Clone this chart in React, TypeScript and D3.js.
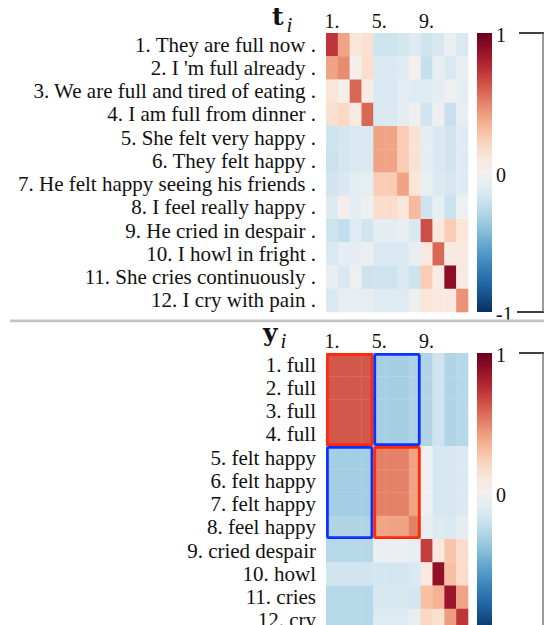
import React from 'react';
import * as d3 from 'd3';

// sentence labels (top) and phrase labels (bottom)
const sentenceLabels = [
    '1. They are full now .',
    "2. I 'm full already .",
    '3. We are full and tired of eating .',
    '4. I am full from dinner .',
    '5. She felt very happy .',
    '6. They felt happy .',
    '7. He felt happy seeing his friends .',
    '8. I feel really happy .',
    '9. He cried in despair .',
    '10. I howl in fright .',
    '11. She cries continuously .',
    '12. I cry with pain .'
];

const phraseLabels = [
    '1. full',
    '2. full',
    '3. full',
    '4. full',
    '5. felt happy',
    '6. felt happy',
    '7. felt happy',
    '8. feel happy',
    '9. cried despair',
    '10. howl',
    '11. cries',
    '12. cry'
];

const colTicks = ['1.', '5.', '9.'];
const colTickIndex = [0, 4, 8];
const cbarTicks = [1, 0, -1];

// similarity of t_i
const sentenceSim = [
    [0.72, 0.4, 0.12, 0.15, -0.2, -0.2, -0.17, -0.12, -0.19, -0.16, -0.05, -0.15],
    [0.4, 0.47, 0.02, 0.17, -0.15, -0.15, -0.12, 0.02, -0.23, -0.08, -0.15, -0.07],
    [0.12, 0.02, 0.58, 0.07, -0.15, -0.15, -0.1, -0.12, -0.12, -0.1, -0.04, -0.1],
    [0.15, 0.19, 0.07, 0.58, -0.15, -0.15, -0.1, -0.03, -0.18, -0.03, -0.22, -0.08],
    [-0.2, -0.17, -0.15, -0.15, 0.4, 0.4, 0.25, 0.14, -0.1, -0.15, -0.18, -0.12],
    [-0.21, -0.17, -0.15, -0.15, 0.4, 0.4, 0.25, 0.14, -0.1, -0.15, -0.18, -0.12],
    [-0.18, -0.15, -0.1, -0.1, 0.25, 0.25, 0.4, 0.12, -0.06, -0.14, -0.16, -0.12],
    [-0.13, 0.04, -0.1, -0.04, 0.17, 0.17, 0.11, 0.32, -0.19, -0.08, -0.21, -0.04],
    [-0.2, -0.24, -0.12, -0.18, -0.1, -0.1, -0.07, -0.15, 0.65, 0.1, 0.25, 0.12],
    [-0.15, -0.09, -0.09, -0.05, -0.15, -0.15, -0.15, -0.08, 0.1, 0.58, 0.08, 0.1],
    [-0.07, -0.15, -0.04, -0.2, -0.2, -0.2, -0.15, -0.2, 0.25, 0.07, 0.9, 0.08],
    [-0.15, -0.08, -0.08, -0.08, -0.12, -0.12, -0.12, -0.03, 0.12, 0.1, 0.09, 0.45]
];

// similarity of y_i
const phraseSim = [
    [0.62, 0.62, 0.62, 0.62, -0.33, -0.33, -0.33, -0.31, -0.3, -0.19, -0.3, -0.28],
    [0.62, 0.62, 0.62, 0.62, -0.33, -0.33, -0.33, -0.31, -0.3, -0.19, -0.3, -0.28],
    [0.62, 0.62, 0.62, 0.62, -0.33, -0.33, -0.33, -0.31, -0.3, -0.19, -0.3, -0.28],
    [0.62, 0.62, 0.62, 0.62, -0.33, -0.33, -0.33, -0.31, -0.3, -0.19, -0.3, -0.28],
    [-0.34, -0.34, -0.34, -0.34, 0.5, 0.5, 0.5, 0.4, -0.04, -0.16, -0.16, -0.14],
    [-0.34, -0.34, -0.34, -0.34, 0.5, 0.5, 0.5, 0.4, -0.04, -0.16, -0.16, -0.14],
    [-0.34, -0.34, -0.34, -0.34, 0.5, 0.5, 0.5, 0.4, -0.04, -0.16, -0.16, -0.14],
    [-0.3, -0.3, -0.3, -0.3, 0.4, 0.4, 0.4, 0.5, -0.08, -0.13, -0.15, -0.09],
    [-0.28, -0.28, -0.28, -0.28, -0.05, -0.05, -0.05, -0.08, 0.7, 0.09, 0.28, 0.18],
    [-0.18, -0.18, -0.18, -0.18, -0.17, -0.17, -0.17, -0.15, 0.09, 0.88, 0.3, 0.18],
    [-0.28, -0.28, -0.28, -0.28, -0.16, -0.16, -0.16, -0.17, 0.3, 0.35, 0.85, 0.4],
    [-0.28, -0.28, -0.28, -0.28, -0.12, -0.12, -0.12, -0.08, 0.2, 0.15, 0.42, 0.72]
];

// highlighted blocks on the phrase matrix: [rowStart, rowEnd, colStart, colEnd]
const boxBlocks = [
    [0, 3, 0, 3],
    [0, 3, 4, 7],
    [4, 7, 0, 3],
    [4, 7, 4, 7]
];
const boxKinds = ['same', 'diff', 'diff', 'same'];

const W = 544;
const H = 625;
const serif = '"Liberation Serif", "Times New Roman", serif';

const color = (v: number) => d3.interpolateRdBu((1 - v) / 2);

const idx = d3.range(12);
const xScale = d3.scaleBand<number>().domain(idx).range([326, 468]);

function Panel({ top, labels, matrix, title, gradId, boxes }: any) {
    const bottom = top + 279;
    const yScale = d3.scaleBand<number>().domain(idx).range([top, bottom]);
    const cbar = d3.scaleLinear().domain([1, -1]).range([top, bottom]);
    const stops = d3.range(0, 1.0001, 0.05);

    return (
        <g>
            <defs>
                <linearGradient id={gradId} x1="0" y1="0" x2="0" y2="1">
                    {stops.map((s) => (
                        <stop key={s} offset={s} stopColor={d3.interpolateRdBu(s)} />
                    ))}
                </linearGradient>
            </defs>

            {/* title */}
            <text x={title.x} y={title.y} fontFamily={serif} fill="#111">
                <tspan fontFamily='"DejaVu Serif", serif' fontWeight="bold" fontSize={25}>
                    {title.main}
                </tspan>
                <tspan fontStyle="italic" fontSize={21} dy={7} dx={3}>
                    i
                </tspan>
            </text>

            {/* column ticks */}
            {colTicks.map((t, k) => (
                <text
                    key={t}
                    x={xScale(colTickIndex[k])! + xScale.bandwidth() / 2}
                    y={top - 5}
                    textAnchor="middle"
                    fontFamily={serif}
                    fontSize={20}
                    fill="#111"
                >
                    {t}
                </text>
            ))}

            {/* row labels */}
            {labels.map((l: string, i: number) => (
                <text
                    key={l + i}
                    x={316}
                    y={yScale(i)! + yScale.bandwidth() / 2 + 7}
                    textAnchor="end"
                    fontFamily={serif}
                    fontSize={21}
                    fill="#111"
                >
                    {l}
                </text>
            ))}

            {/* cells */}
            {matrix.map((row: number[], i: number) =>
                row.map((v, j) => (
                    <rect
                        key={`${i}-${j}`}
                        x={xScale(j)}
                        y={yScale(i)}
                        width={xScale.bandwidth() + 0.3}
                        height={yScale.bandwidth() + 0.3}
                        fill={color(v)}
                    />
                ))
            )}

            {/* boxes */}
            {boxes &&
                boxBlocks.map((b, k) => {
                    const x0 = xScale(b[2])!;
                    const x1 = xScale(b[3])! + xScale.bandwidth();
                    const y0 = yScale(b[0])!;
                    const y1 = yScale(b[1])! + yScale.bandwidth();
                    return (
                        <rect
                            key={k}
                            x={x0 + 1.4}
                            y={y0 + 1.4}
                            width={x1 - x0 - 2.8}
                            height={y1 - y0 - 2.8}
                            rx={1.5}
                            fill="none"
                            stroke={boxKinds[k] === 'same' ? '#ff2a0c' : '#0d30ff'}
                            strokeWidth={2.8}
                        />
                    );
                })}

            {/* colorbar */}
            <rect x={477} y={top} width={15} height={279} fill={`url(#${gradId})`} />
            {cbarTicks.map((t) => (
                <text
                    key={t}
                    x={496}
                    y={cbar(t) + 9}
                    fontFamily={serif}
                    fontSize={20}
                    fill="#111"
                >
                    {t}
                </text>
            ))}

            {/* bracket */}
            <line x1={519} x2={544} y1={top} y2={top} stroke="#111" strokeWidth={1.6} />
            <line x1={517} x2={544} y1={bottom} y2={bottom} stroke="#111" strokeWidth={1.6} />
            <line x1={543} x2={543} y1={top} y2={bottom} stroke="#666" strokeWidth={1.3} />
        </g>
    );
}

export default function App() {
    return (
        <svg
            width={W}
            height={H}
            style={{ position: 'absolute', left: 0, top: 0, background: '#fff' }}
        >
            <rect width={W} height={H} fill="#fff" />
            <Panel
                top={33}
                labels={sentenceLabels}
                matrix={sentenceSim}
                title={{ x: 272, y: 25, main: 't' }}
                gradId="cbarTop"
                boxes={false}
            />
            <line x1={10} x2={W} y1={320.8} y2={320.8} stroke="#c4c4c4" strokeWidth={2.8} />
            <Panel
                top={353}
                labels={phraseLabels}
                matrix={phraseSim}
                title={{ x: 263, y: 341, main: 'y' }}
                gradId="cbarBottom"
                boxes={true}
            />
        </svg>
    );
}
